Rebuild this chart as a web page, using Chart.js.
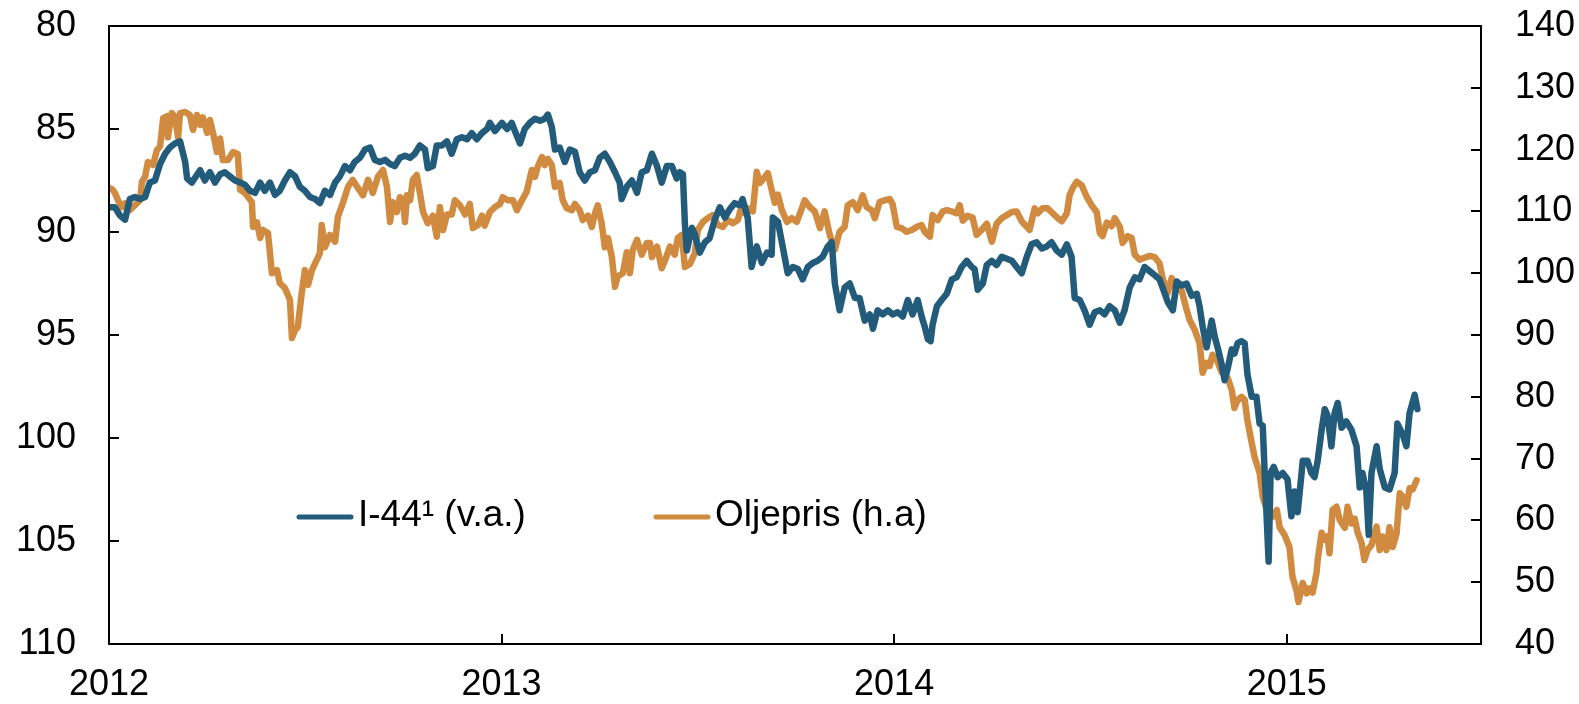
<!DOCTYPE html>
<html>
<head>
<meta charset="utf-8">
<script src="https://cdn.jsdelivr.net/npm/chart.js@4.4.1/dist/chart.umd.min.js"></script>
<style>
  html, body { margin: 0; padding: 0; background: #ffffff; }
  #wrap { width: 1579px; height: 704px; position: relative; }
</style>
</head>
<body>
<div id="wrap"><canvas id="c" width="1579" height="704"></canvas></div>
<script>
// ---- Data ----
const yearTicks = [2012, 2013, 2014, 2015];
const leftTicks = [80, 85, 90, 95, 100, 105, 110];
const rightTicks = [40, 50, 60, 70, 80, 90, 100, 110, 120, 130, 140];
const seriesLabels = ['I-44\u00B9 (v.a.)', 'Oljepris (h.a)'];

const i44Dates = [
2012.000,2012.015,2012.028,2012.041,2012.053,2012.066,2012.079,2012.092,2012.104,2012.117,
2012.130,2012.143,2012.155,2012.168,2012.181,2012.194,2012.199,2012.211,2012.232,2012.244,
2012.257,2012.270,2012.283,2012.295,2012.308,2012.321,2012.334,2012.346,2012.359,2012.372,
2012.385,2012.397,2012.410,2012.423,2012.435,2012.448,2012.461,2012.474,2012.486,2012.499,
2012.512,2012.525,2012.537,2012.550,2012.563,2012.576,2012.588,2012.601,2012.614,2012.626,
2012.639,2012.652,2012.665,2012.677,2012.690,2012.703,2012.716,2012.728,2012.741,2012.754,
2012.767,2012.779,2012.792,2012.805,2012.812,2012.825,2012.835,2012.848,2012.861,2012.873,
2012.886,2012.899,2012.912,2012.924,2012.937,2012.950,2012.963,2012.970,2012.983,2013.001,
2013.014,2013.026,2013.034,2013.047,2013.059,2013.072,2013.085,2013.098,2013.110,2013.118,
2013.128,2013.136,2013.148,2013.161,2013.174,2013.187,2013.199,2013.212,2013.225,2013.238,
2013.250,2013.263,2013.276,2013.289,2013.301,2013.306,2013.319,2013.332,2013.345,2013.357,
2013.370,2013.383,2013.396,2013.408,2013.421,2013.434,2013.446,2013.454,2013.462,2013.467,
2013.472,2013.485,2013.492,2013.505,2013.518,2013.530,2013.543,2013.556,2013.569,2013.581,
2013.594,2013.607,2013.614,2013.627,2013.637,2013.650,2013.663,2013.676,2013.688,2013.691,
2013.704,2013.716,2013.729,2013.742,2013.755,2013.767,2013.780,2013.793,2013.805,2013.818,
2013.831,2013.841,2013.849,2013.861,2013.874,2013.887,2013.900,2013.912,2013.925,2013.938,
2013.946,2013.958,2013.971,2013.984,2013.996,2014.009,2014.022,2014.035,2014.047,2014.060,
2014.070,2014.078,2014.086,2014.093,2014.098,2014.109,2014.121,2014.134,2014.147,2014.159,
2014.172,2014.185,2014.198,2014.205,2014.213,2014.226,2014.236,2014.249,2014.261,2014.274,
2014.287,2014.300,2014.312,2014.325,2014.338,2014.350,2014.363,2014.376,2014.389,2014.401,
2014.414,2014.427,2014.440,2014.452,2014.460,2014.473,2014.485,2014.498,2014.511,2014.524,
2014.536,2014.549,2014.562,2014.575,2014.587,2014.600,2014.613,2014.625,2014.638,2014.651,
2014.664,2014.676,2014.684,2014.697,2014.710,2014.720,2014.732,2014.745,2014.758,2014.771,
2014.778,2014.786,2014.796,2014.804,2014.809,2014.817,2014.824,2014.834,2014.842,2014.850,
2014.860,2014.867,2014.875,2014.885,2014.893,2014.900,2014.911,2014.923,2014.931,2014.939,
2014.944,2014.954,2014.959,2014.967,2014.977,2014.990,2015.002,2015.012,2015.020,2015.028,
2015.038,2015.041,2015.053,2015.063,2015.071,2015.079,2015.089,2015.097,2015.104,2015.114,
2015.122,2015.130,2015.140,2015.152,2015.165,2015.178,2015.186,2015.193,2015.203,2015.209,
2015.216,2015.229,2015.237,2015.250,2015.262,2015.275,2015.282,2015.295,2015.305,2015.313,
2015.326,2015.333
];
const i44Values = [
88.8,88.8,89.2,89.4,88.4,88.3,88.4,88.3,87.6,87.5,
86.7,86.2,85.9,85.7,85.6,86.6,87.4,87.6,87.0,87.5,
87.1,87.6,87.2,87.1,87.3,87.5,87.6,87.7,88.0,88.1,
87.6,88.0,87.6,88.2,88.0,87.5,87.1,87.3,87.8,88.0,
88.3,88.4,88.6,88.0,88.2,87.6,87.3,86.8,87.0,86.6,
86.4,86.0,85.9,86.5,86.6,86.5,86.7,86.8,86.4,86.3,
86.4,86.2,85.8,86.0,86.9,86.8,85.8,85.8,85.6,86.2,
85.5,85.4,85.5,85.2,85.5,85.2,85.0,84.7,85.1,84.7,
85.0,84.7,85.1,85.7,85.0,84.7,84.5,84.6,84.5,84.3,
84.9,86.0,85.9,86.6,86.0,86.1,87.1,87.5,87.1,87.0,
86.4,86.2,86.6,87.1,87.6,88.4,87.8,87.5,88.1,87.1,
87.0,86.2,86.8,87.6,86.8,86.8,87.4,87.1,87.2,89.6,
90.9,89.8,90.1,91.0,90.5,90.3,89.4,88.8,89.3,88.9,
88.6,88.7,88.4,89.3,91.7,90.7,91.5,91.0,91.1,89.3,
89.5,90.7,92.0,91.7,91.8,92.3,91.7,91.5,91.4,91.2,
90.7,90.5,92.5,93.8,92.7,92.5,93.2,93.2,94.3,94.0,
94.7,93.8,94.0,93.8,94.0,93.9,94.1,93.3,94.0,93.3,
94.1,94.6,95.2,95.3,94.5,93.6,93.3,93.0,92.3,92.2,
91.7,91.4,91.7,91.8,92.8,92.5,91.6,91.4,91.6,91.2,
91.3,91.4,91.7,92.0,91.2,90.6,90.5,90.8,90.7,90.5,
90.9,91.1,90.6,91.2,93.2,93.3,93.8,94.5,93.9,93.8,
94.0,93.6,93.8,94.4,93.8,92.7,92.2,92.3,91.7,91.9,
92.1,92.3,92.7,93.4,93.8,92.4,92.6,92.5,93.1,93.0,
93.6,94.6,95.6,94.8,94.3,95.1,95.6,96.4,97.2,96.6,
95.7,95.9,95.4,95.3,95.4,96.9,98.0,98.0,99.3,99.4,
101.7,106.0,101.7,101.4,101.9,101.7,102.0,103.8,102.6,103.6,
101.7,101.1,101.1,101.7,101.9,101.1,99.6,98.6,98.9,100.4,
98.8,98.3,99.5,99.2,99.6,100.4,102.4,101.7,102.6,104.7,
101.7,100.4,101.5,102.4,102.5,101.7,99.3,99.8,100.4,98.8,
97.9,98.6
];

const oilDates = [
2012.000,2012.008,2012.015,2012.023,2012.033,2012.041,2012.053,2012.066,2012.079,2012.084,
2012.092,2012.099,2012.112,2012.122,2012.130,2012.138,2012.148,2012.150,2012.160,2012.168,
2012.176,2012.181,2012.194,2012.206,2012.214,2012.224,2012.232,2012.239,2012.250,2012.257,
2012.265,2012.275,2012.283,2012.290,2012.303,2012.316,2012.328,2012.334,2012.346,2012.364,
2012.367,2012.377,2012.385,2012.392,2012.405,2012.415,2012.428,2012.435,2012.448,2012.461,
2012.466,2012.474,2012.481,2012.491,2012.499,2012.507,2012.517,2012.525,2012.537,2012.542,
2012.550,2012.563,2012.576,2012.583,2012.596,2012.609,2012.621,2012.634,2012.647,2012.660,
2012.672,2012.685,2012.698,2012.708,2012.716,2012.723,2012.733,2012.741,2012.749,2012.754,
2012.759,2012.767,2012.774,2012.784,2012.792,2012.800,2012.812,2012.825,2012.835,2012.843,
2012.851,2012.861,2012.873,2012.881,2012.894,2012.907,2012.919,2012.927,2012.940,2012.950,
2012.957,2012.970,2012.983,2012.996,2013.003,2013.016,2013.029,2013.039,2013.052,2013.064,
2013.077,2013.085,2013.092,2013.103,2013.110,2013.118,2013.128,2013.136,2013.148,2013.156,
2013.166,2013.179,2013.187,2013.199,2013.207,2013.220,2013.230,2013.238,2013.245,2013.255,
2013.263,2013.271,2013.281,2013.289,2013.296,2013.309,2013.319,2013.327,2013.334,2013.345,
2013.357,2013.370,2013.378,2013.383,2013.396,2013.408,2013.416,2013.429,2013.441,2013.449,
2013.459,2013.467,2013.480,2013.492,2013.500,2013.513,2013.525,2013.538,2013.551,2013.564,
2013.576,2013.589,2013.602,2013.612,2013.620,2013.627,2013.640,2013.650,2013.658,2013.665,
2013.678,2013.688,2013.696,2013.704,2013.714,2013.727,2013.739,2013.752,2013.765,2013.772,
2013.785,2013.798,2013.811,2013.823,2013.836,2013.849,2013.861,2013.874,2013.882,2013.895,
2013.907,2013.920,2013.930,2013.943,2013.951,2013.963,2013.976,2013.989,2013.996,2014.007,
2014.019,2014.032,2014.045,2014.058,2014.070,2014.078,2014.091,2014.098,2014.111,2014.124,
2014.134,2014.147,2014.159,2014.167,2014.175,2014.187,2014.200,2014.210,2014.223,2014.236,
2014.249,2014.261,2014.274,2014.287,2014.300,2014.312,2014.325,2014.338,2014.345,2014.358,
2014.366,2014.378,2014.391,2014.404,2014.417,2014.427,2014.440,2014.447,2014.455,2014.465,
2014.478,2014.491,2014.503,2014.516,2014.524,2014.531,2014.542,2014.554,2014.562,2014.575,
2014.582,2014.595,2014.605,2014.613,2014.625,2014.638,2014.651,2014.664,2014.676,2014.684,
2014.697,2014.707,2014.720,2014.732,2014.745,2014.753,2014.766,2014.778,2014.786,2014.796,
2014.804,2014.811,2014.822,2014.834,2014.842,2014.850,2014.860,2014.867,2014.875,2014.885,
2014.893,2014.900,2014.911,2014.918,2014.931,2014.939,2014.952,2014.964,2014.975,2014.982,
2014.995,2015.007,2015.015,2015.025,2015.030,2015.041,2015.051,2015.058,2015.066,2015.076,
2015.079,2015.089,2015.097,2015.104,2015.109,2015.117,2015.127,2015.135,2015.148,2015.155,
2015.165,2015.173,2015.181,2015.191,2015.198,2015.206,2015.216,2015.229,2015.237,2015.244,
2015.254,2015.262,2015.270,2015.280,2015.288,2015.295,2015.305,2015.313,2015.321,2015.331
];
const oilValues = [
113.8,113.6,113.0,111.8,110.7,111.3,110.2,111.0,111.8,114.8,
115.6,118.0,117.5,119.9,120.5,125.1,125.4,122.0,125.9,125.3,
122.0,125.9,126.1,125.6,123.2,125.6,124.0,125.2,122.7,124.8,
122.7,119.6,121.8,118.3,118.3,119.6,119.3,113.5,113.0,111.5,
107.5,108.2,105.7,107.0,106.5,100.0,100.5,98.4,97.6,95.7,
89.5,90.8,91.3,96.8,100.5,98.1,100.5,101.6,103.2,107.8,
104.2,106.2,105.1,109.1,111.4,114.0,115.1,113.8,112.6,115.1,
113.0,115.6,116.7,114.0,108.3,111.5,109.9,112.3,111.8,108.3,
112.6,111.8,115.1,115.9,113.0,109.9,108.1,109.3,105.9,110.7,
107.0,109.5,109.5,111.8,111.0,109.5,111.2,107.3,107.8,109.3,
107.7,109.9,110.7,111.2,112.3,111.8,111.8,110.2,111.8,113.2,
116.7,115.6,117.2,118.8,117.5,118.5,117.5,114.0,114.6,111.8,
110.5,110.2,111.2,110.2,108.6,109.3,107.5,109.7,111.0,108.1,
104.2,105.7,102.6,97.8,99.5,100.0,103.4,100.0,103.7,105.4,
103.0,104.9,104.9,102.6,104.3,100.8,102.0,104.3,103.0,105.7,
106.2,101.0,101.5,103.2,107.0,108.3,108.9,109.4,107.8,107.5,
108.6,108.1,108.6,111.0,109.7,110.5,110.0,116.4,114.6,115.1,
116.2,113.5,111.4,112.7,110.2,108.3,108.9,108.3,110.5,111.8,
110.7,110.0,107.3,110.0,106.2,103.8,106.7,107.5,111.0,111.5,
110.2,112.6,110.7,110.2,108.9,111.5,111.8,112.0,111.2,107.5,
107.3,106.7,107.0,107.5,107.8,106.7,105.9,109.4,108.6,110.0,
110.2,110.0,109.7,111.0,108.5,109.3,109.0,106.2,107.0,108.0,
105.1,108.0,108.9,109.4,109.9,110.0,108.4,107.5,107.0,110.5,
109.7,110.5,110.5,109.7,108.9,108.4,109.7,112.6,113.8,114.8,
114.2,112.3,111.0,109.9,106.5,106.0,108.2,107.6,108.9,107.5,
104.9,106.0,105.7,103.0,102.2,102.5,102.8,102.6,101.6,99.2,
96.8,99.2,97.3,97.3,94.1,92.4,90.8,88.7,83.9,85.5,
85.0,86.8,86.0,84.0,83.7,83.0,81.1,78.2,79.5,80.0,
79.5,76.2,72.5,70.3,67.7,63.8,61.2,60.6,61.7,58.9,
57.6,55.7,50.8,48.7,46.8,49.9,48.2,49.0,48.3,51.5,
53.6,58.0,56.9,57.4,54.7,61.7,62.2,60.1,58.8,62.2,
59.5,60.3,58.0,56.3,53.6,55.2,56.0,59.0,55.2,57.4,
55.2,58.9,55.7,57.9,64.4,63.9,62.2,65.2,65.0,66.5
];

// ---- Styling ----
const BLUE = '#235b7b';
const ORANGE = '#d08b40';
const FONT = '"Liberation Sans", Arial, Helvetica, sans-serif';
const FS = 36;
const LEGEND_FS = 37;

function toPoints(xs, ys) { return xs.map((x, i) => ({ x: x, y: ys[i] })); }

const framePlugin = {
  id: 'frame',
  afterDatasetsDraw(chart) {
    const ctx = chart.ctx;
    const a = chart.chartArea;
    const tl = 10;
    ctx.save();
    ctx.strokeStyle = '#000';
    ctx.lineWidth = 2;
    ctx.lineCap = 'butt';
    ctx.beginPath();
    ctx.rect(a.left, a.top, a.right - a.left, a.bottom - a.top);
    ctx.stroke();
    ctx.beginPath();
    const sy = chart.scales.y, sy2 = chart.scales.y2, sx = chart.scales.x;
    sy.ticks.forEach(t => { const p = Math.round(sy.getPixelForValue(t.value)); ctx.moveTo(a.left, p); ctx.lineTo(a.left + tl, p); });
    sy2.ticks.forEach(t => { const p = Math.round(sy2.getPixelForValue(t.value)); ctx.moveTo(a.right, p); ctx.lineTo(a.right - tl, p); });
    sx.ticks.forEach(t => { const p = Math.round(sx.getPixelForValue(t.value)); ctx.moveTo(p, a.bottom); ctx.lineTo(p, a.bottom - tl); });
    ctx.stroke();
    ctx.restore();
  }
};

const legendPlugin = {
  id: 'ownLegend',
  afterDraw(chart) {
    const ctx = chart.ctx;
    const a = chart.chartArea;
    const items = [
      { x: a.left + 188, ds: chart.data.datasets[0] },
      { x: a.left + 545, ds: chart.data.datasets[1] }
    ];
    const y = a.top + 491;
    ctx.save();
    ctx.font = LEGEND_FS + 'px ' + FONT;
    ctx.textBaseline = 'middle';
    ctx.textAlign = 'left';
    items.forEach(it => {
      ctx.strokeStyle = it.ds.borderColor;
      ctx.lineWidth = 5;
      ctx.lineCap = 'round';
      ctx.beginPath();
      ctx.moveTo(it.x + 2, y);
      ctx.lineTo(it.x + 54, y);
      ctx.stroke();
      ctx.fillStyle = '#000';
      ctx.fillText(it.ds.label, it.x + 61, y - 1);
    });
    ctx.restore();
  }
};

function fixY(width) {
  return s => { s.width = width; s.paddingTop = 0; s.paddingBottom = 0; };
}

new Chart(document.getElementById('c'), {
  type: 'line',
  data: {
    datasets: [
      { label: seriesLabels[0], data: toPoints(i44Dates, i44Values), yAxisID: 'y',
        borderColor: BLUE, backgroundColor: BLUE, borderWidth: 6.5, pointRadius: 0,
        tension: 0, borderJoinStyle: 'round', borderCapStyle: 'round', fill: false },
      { label: seriesLabels[1], data: toPoints(oilDates, oilValues), yAxisID: 'y2',
        borderColor: ORANGE, backgroundColor: ORANGE, borderWidth: 6.5, pointRadius: 0,
        tension: 0, borderJoinStyle: 'round', borderCapStyle: 'round', fill: false }
    ]
  },
  options: {
    responsive: false,
    animation: false,
    devicePixelRatio: 1,
    layout: { padding: { top: 26, left: 0, right: 0, bottom: 0 } },
    plugins: { legend: { display: false }, tooltip: { enabled: false } },
    scales: {
      x: {
        type: 'linear', min: 2012, max: 2015.495,
        afterBuildTicks: s => { s.ticks = yearTicks.map(v => ({ value: v })); },
        afterFit: s => { s.height = 60; s.paddingLeft = 0; s.paddingRight = 0; },
        grid: { display: false, drawTicks: false },
        border: { display: false },
        ticks: { padding: 19, maxRotation: 0, autoSkip: false, color: '#000',
                 font: { family: FONT, size: FS }, callback: v => String(v) }
      },
      y: {
        position: 'left', reverse: true, min: 80, max: 110,
        afterBuildTicks: s => { s.ticks = leftTicks.map(v => ({ value: v })); },
        afterFit: fixY(109),
        grid: { display: false, drawTicks: false },
        border: { display: false },
        ticks: { padding: 33, color: '#000', font: { family: FONT, size: FS }, callback: v => String(v) }
      },
      y2: {
        position: 'right', min: 40, max: 140,
        afterBuildTicks: s => { s.ticks = rightTicks.map(v => ({ value: v })); },
        afterFit: fixY(98),
        grid: { display: false, drawTicks: false },
        border: { display: false },
        ticks: { padding: 34, color: '#000', font: { family: FONT, size: FS }, callback: v => String(v) }
      }
    }
  },
  plugins: [framePlugin, legendPlugin]
});
</script>
</body>
</html>
